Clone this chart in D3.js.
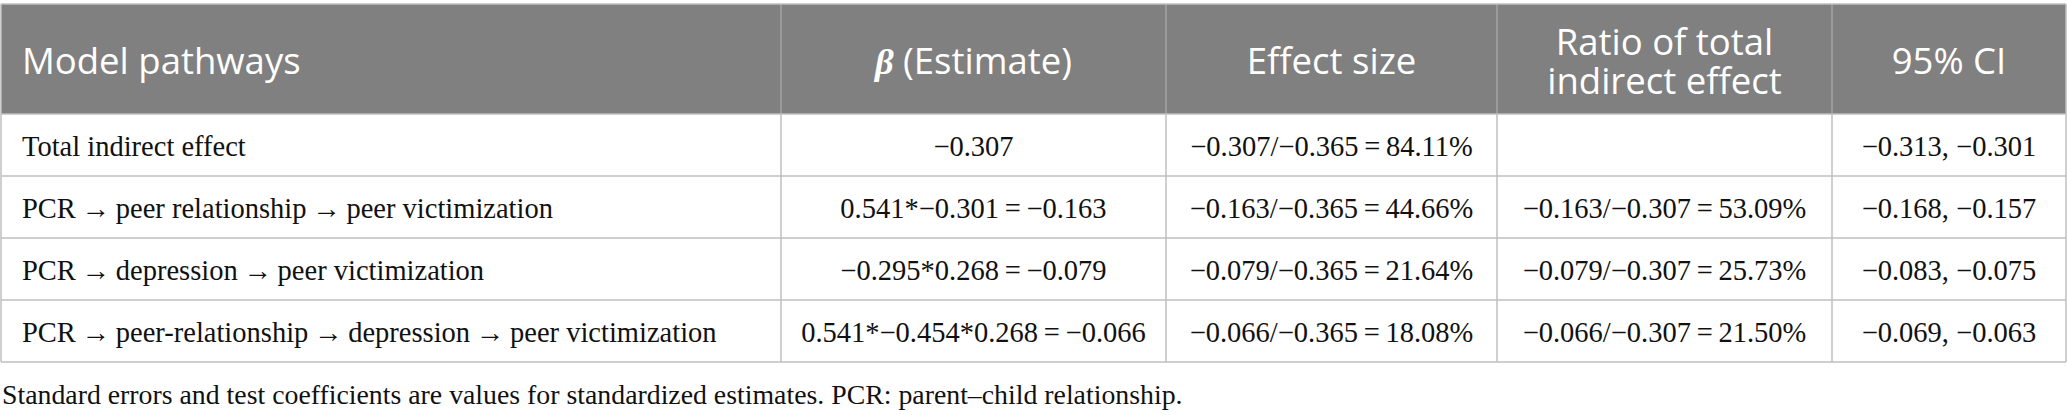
<!DOCTYPE html>
<html>
<head>
<meta charset="utf-8">
<script src="https://cdn.jsdelivr.net/npm/d3@7"></script>
<style>
  html, body { margin: 0; padding: 0; background: #fff; }
  svg { display: block; }
</style>
</head>
<body>
<div id="table"></div>
<script>
// table content
var headers = [["Model pathways"], ["β (Estimate)"], ["Effect size"], ["Ratio of total", "indirect effect"], ["95% CI"]];
var pathways = [
    "Total indirect effect",
    "PCR\u2009\u2192\u2009peer relationship\u2009\u2192\u2009peer victimization",
    "PCR\u2009\u2192\u2009depression\u2009\u2192\u2009peer victimization",
    "PCR\u2009\u2192\u2009peer-relationship\u2009\u2192\u2009depression\u2009\u2192\u2009peer victimization"
];
var estimates = [
    "\u22120.307",
    "0.541*\u22120.301\u2009=\u2009\u22120.163",
    "\u22120.295*0.268\u2009=\u2009\u22120.079",
    "0.541*\u22120.454*0.268\u2009=\u2009\u22120.066"
];
var effectSizes = [
    "\u22120.307/\u22120.365\u2009=\u200984.11%",
    "\u22120.163/\u22120.365\u2009=\u200944.66%",
    "\u22120.079/\u22120.365\u2009=\u200921.64%",
    "\u22120.066/\u22120.365\u2009=\u200918.08%"
];
var ratios = [
    "",
    "\u22120.163/\u22120.307\u2009=\u200953.09%",
    "\u22120.079/\u22120.307\u2009=\u200925.73%",
    "\u22120.066/\u22120.307\u2009=\u200921.50%"
];
var ci95 = [
    "\u22120.313, \u22120.301",
    "\u22120.168, \u22120.157",
    "\u22120.083, \u22120.075",
    "\u22120.069, \u22120.063"
];
var note = "Standard errors and test coefficients are values for standardized estimates. PCR: parent\u2013child relationship.";

var create_table = function(id){
    var width = 2067, height = 415;
    var top = 4, headBottom = 114, bottom = 362;
    var colEdges = [1, 781, 1166, 1497, 1832, 2066];

    var svg = d3.select("#" + id).append("svg")
        .attr("width", width)
        .attr("height", height);

    var columns = [pathways, estimates, effectSizes, ratios, ci95];
    var rowIdx = d3.range(pathways.length);

    var y = d3.scaleBand()
        .domain(rowIdx)
        .range([headBottom, bottom]);

    var x0 = function(i){ return colEdges[i]; };
    var x1 = function(i){ return colEdges[i + 1]; };
    var xc = function(i){ return (x0(i) + x1(i)) / 2; };

    // header background
    svg.append("rect")
        .attr("x", colEdges[0])
        .attr("y", top)
        .attr("width", colEdges[5] - colEdges[0])
        .attr("height", headBottom - top)
        .attr("fill", "#7f807f");

    // header dividers
    svg.selectAll("line.hdiv")
        .data(d3.range(1, 5))
        .enter().append("line")
        .attr("class", "hdiv")
        .attr("x1", x0).attr("x2", x0)
        .attr("y1", top).attr("y2", headBottom)
        .attr("stroke", "#a3a3a3")
        .attr("stroke-width", 1.5);

    // header text, one <text> per line
    var lineH = 39;
    headers.forEach(function(d, i){
        var mid = (top + headBottom) / 2 + 1;
        var first = mid + 14 - (d.length - 1) * lineH / 2;
        d.forEach(function(line, k){
            var t = svg.append("text")
                .attr("class", "head")
                .attr("fill", "#ffffff")
                .style("font-family", "'Open Sans', 'Noto Sans', sans-serif")
                .style("font-weight", 400)
                .style("font-size", "36.5px")
                .attr("text-anchor", i == 0 ? "start" : "middle")
                .attr("x", i == 0 ? x0(i) + 21 : xc(i))
                .attr("y", first + k * lineH);
            if (line.charAt(0) == "β") {
                t.append("tspan")
                    .style("font-family", "'Liberation Serif', serif")
                    .style("font-style", "italic")
                    .style("font-weight", "bold")
                    .text("β");
                t.append("tspan").text(line.slice(1));
            } else {
                t.text(line);
            }
        });
    });

    // horizontal rules
    var hLines = [top, headBottom].concat(rowIdx.map(function(r){ return y(r) + y.bandwidth(); }));
    svg.selectAll("line.hrule")
        .data(hLines)
        .enter().append("line")
        .attr("class", "hrule")
        .attr("x1", colEdges[0]).attr("x2", colEdges[5])
        .attr("y1", function(d){ return d; })
        .attr("y2", function(d){ return d; })
        .attr("stroke", "#bfbfbf")
        .attr("stroke-width", 1.5);

    // vertical rules (incl. outer borders)
    svg.selectAll("line.vrule")
        .data(colEdges)
        .enter().append("line")
        .attr("class", "vrule")
        .attr("x1", function(d){ return d; }).attr("x2", function(d){ return d; })
        .attr("y1", function(d, i){ return (i == 0 || i == 5) ? top : headBottom; })
        .attr("y2", bottom)
        .attr("stroke", "#bfbfbf")
        .attr("stroke-width", 1.5);

    // body cells
    columns.forEach(function(col, c){
        svg.selectAll("text.c" + c)
            .data(col)
            .enter().append("text")
            .attr("class", "cell c" + c)
            .attr("x", c == 0 ? x0(c) + 21 : xc(c))
            .attr("y", function(d, r){ return y(r) + y.bandwidth() / 2 + 10.5; })
            .attr("text-anchor", c == 0 ? "start" : "middle")
            .attr("fill", "#111111")
            .style("font-family", "'Liberation Serif', 'Times New Roman', serif")
            .style("font-size", "28.5px")
            .text(function(d){ return d; });
    });

    // footnote
    svg.append("text")
        .attr("x", 2)
        .attr("y", 404)
        .attr("fill", "#111111")
        .style("font-family", "'Liberation Serif', 'Times New Roman', serif")
        .style("font-size", "27.8px")
        .text(note);
};

create_table("table");
</script>
</body>
</html>
